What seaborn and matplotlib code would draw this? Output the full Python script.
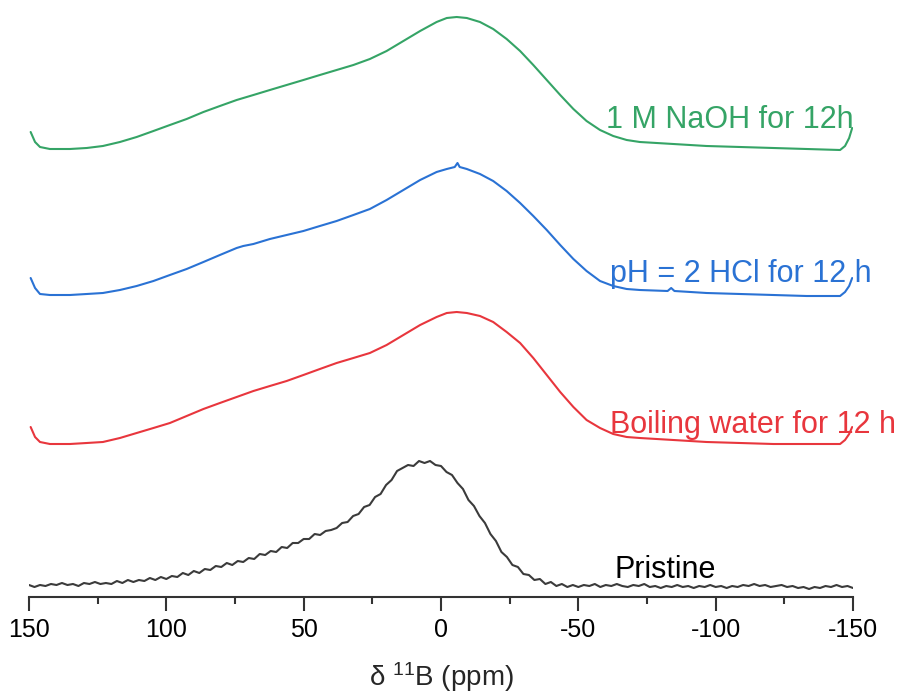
import numpy as np
import pandas as pd
import matplotlib
matplotlib.use("Agg")
import matplotlib.pyplot as plt
from matplotlib.ticker import MultipleLocator
import seaborn as sns

# ---------------- data ----------------
# Pristine spectrum: chemical shift (ppm) and intensity (a.u.)
pristine_ppm = list(range(150, -151, -2))
pristine_int = [3, 1, 3, 2, 4, 3, 5, 3, 4, 2, 5, 4, 6, 4, 5, 4, 7, 5, 8, 6,
                8, 7, 10, 8, 11, 9, 12, 11, 15, 13, 17, 15, 19, 18, 22, 21, 25, 23, 27, 26,
                30, 29, 34, 33, 37, 36, 41, 40, 45, 45, 49, 49, 54, 53, 57, 58, 60, 65, 66, 72,
                74, 81, 83, 91, 94, 103, 108, 117, 120, 123, 122, 127, 125, 127, 123, 122, 116, 113, 105, 99,
                88, 82, 72, 65, 54, 47, 36, 31, 23, 21, 14, 13, 8, 9, 4, 6, 2, 4, 1, 3,
                1, 3, 2, 4, 1, 3, 2, 4, 2, 1, 3, 2, 4, 1, 2, 0, 2, 1, 3, 1,
                2, 0, 2, 1, 3, 1, 2, 0, 2, 1, 3, 2, 4, 2, 3, 1, 2, 3, 1, 2,
                0, 1, -1, 1, 0, 2, 1, 3, 1, 2, 0]

# Boiling water for 12 h
boil_ppm = [149.4, 147.8, 146.0, 142.4, 135.1, 129.0, 123.1, 116.9, 110.8, 104.7, 98.7, 92.6,
            86.5, 80.5, 74.4, 68.3, 62.3, 56.2, 50.1, 44.1, 38.0, 31.9, 25.9, 19.8, 13.7, 7.6,
            1.6, -2.1, -5.7, -9.4, -14.2, -19.0, -23.9, -28.8, -33.6, -38.5, -43.4, -48.2,
            -53.0, -57.9, -62.7, -67.6, -72.4, -84.6, -96.7, -108.9, -121.0, -133.1, -145.3,
            -147.1, -148.6, -149.7]
boil_int = [17, 7, 2, 0, 0, 1, 2, 6, 11, 16, 21, 28,
            35, 41, 47, 53, 58, 63, 69, 75, 81, 86, 91, 99, 109, 119,
            127, 131, 132, 131, 128, 122, 112, 101, 86, 69, 52, 37,
            24, 16, 10, 7, 6, 4, 2, 1, 0, 0, 0,
            4, 10, 17]

# pH = 2 HCl for 12 h
hcl_ppm = [149.4, 147.8, 146.0, 142.4, 135.1, 129.0, 123.1, 116.9, 110.8, 104.7, 98.7, 92.6,
           86.5, 80.5, 74.4, 72.0, 68.3, 62.3, 56.2, 50.1, 44.1, 38.0, 31.9, 25.9, 19.8, 13.7,
           7.6, 1.6, -2.1, -5.0, -6.0, -6.8, -9.4, -14.2, -19.0, -23.9, -28.8, -33.6, -38.5,
           -43.4, -48.2, -53.0, -57.9, -62.7, -67.6, -72.4, -82.5, -83.8, -85.0, -96.7, -108.9,
           -121.0, -133.1, -145.3, -147.1, -148.6, -149.7]
hcl_int = [18, 8, 2, 1, 1, 2, 3, 6, 10, 15, 21, 27,
           34, 41, 48, 50, 52, 57, 61, 65, 70, 75, 81, 87, 96, 106,
           116, 124, 127, 129, 133, 129, 127, 122, 115, 105, 93, 80, 66,
           51, 37, 25, 15, 10, 7, 6, 5, 8, 5, 3, 2,
           1, 0, 0, 4, 10, 18]

# 1 M NaOH for 12h
naoh_ppm = [149.4, 147.8, 146.0, 142.4, 135.1, 129.0, 123.1, 116.9, 110.8, 104.7, 98.7, 92.6,
            86.5, 80.5, 74.4, 68.3, 62.3, 56.2, 50.1, 44.1, 38.0, 31.9, 25.9, 19.8, 13.7, 7.6,
            1.6, -2.1, -5.7, -9.4, -14.2, -19.0, -23.9, -28.8, -33.6, -38.5, -43.4, -48.2,
            -53.0, -57.9, -62.7, -67.6, -72.4, -84.6, -96.7, -108.9, -121.0, -133.1, -145.3,
            -147.1, -148.6, -149.7]
naoh_int = [18, 8, 3, 1, 1, 2, 4, 8, 13, 19, 25, 31,
            38, 44, 50, 55, 60, 65, 70, 75, 80, 85, 91, 99, 109, 119,
            128, 132, 133, 132, 128, 121, 111, 99, 85, 70, 55, 41,
            29, 20, 14, 10, 8, 6, 4, 3, 2, 1, 0,
            4, 12, 22]

labels = ["Pristine", "Boiling water for 12 h", "pH = 2 HCl for 12 h", "1 M NaOH for 12h"]
offsets = [9, 153, 301, 447]
colors = ["#3b3b3b", "#e8363d", "#2a72d4", "#35a466"]
label_colors = ["#000000", "#e8363d", "#2a72d4", "#35a466"]

xticks = [150, 100, 50, 0, -50, -100, -150]
xlabel = r"δ $^{11}$B (ppm)"

# ---------------- plotting ----------------
sns.set_theme(style="white")
plt.rcParams["font.family"] = ["Liberation Sans", "DejaVu Sans"]
plt.rcParams["mathtext.fontset"] = "custom"
plt.rcParams["mathtext.rm"] = "Liberation Sans"
plt.rcParams["mathtext.default"] = "regular"

fig = plt.figure(figsize=(9.07, 6.93), dpi=100)
ax = fig.add_axes([29 / 907, 96 / 693, (853 - 29) / 907, 597 / 693])

series = [(pristine_ppm, pristine_int), (boil_ppm, boil_int), (hcl_ppm, hcl_int), (naoh_ppm, naoh_int)]
for (xs, ys), off, col in zip(series, offsets, colors):
    df = pd.DataFrame({"ppm": xs, "I": np.asarray(ys, dtype=float) + off})
    sns.lineplot(data=df, x="ppm", y="I", color=col, linewidth=1.5, ax=ax, sort=True, estimator=None)

ax.set_xlim(150, -150)
ax.set_ylim(0, 597)
ax.set_xticks(xticks)
ax.set_xticklabels([str(t) for t in xticks])
ax.xaxis.set_minor_locator(MultipleLocator(25))
ax.set_yticks([])
ax.set_ylabel("")
ax.set_xlabel(xlabel, fontsize=20, labelpad=13)
for s in ["top", "left", "right"]:
    ax.spines[s].set_visible(False)
ax.spines["bottom"].set_color("#333333")
ax.spines["bottom"].set_linewidth(1.5)
ax.tick_params(axis="x", which="major", direction="out", length=10, width=1.5,
               color="#333333", labelsize=18, pad=5, bottom=True, labelcolor="#000000")
ax.tick_params(axis="x", which="minor", direction="out", length=5, width=1.5,
               color="#333333", bottom=True)
ax.patch.set_alpha(0)

# spectrum labels (baseline positions)
label_pos = [(-63.3, 19), (-61.5, 164), (-61.5, 315), (-59.9, 469)]
for lab, (lx, ly), col in zip(labels, label_pos, label_colors):
    ax.text(lx, ly, lab, color=col, fontsize=22, ha="left", va="baseline", clip_on=False)

fig.savefig("out.png", dpi=100)
